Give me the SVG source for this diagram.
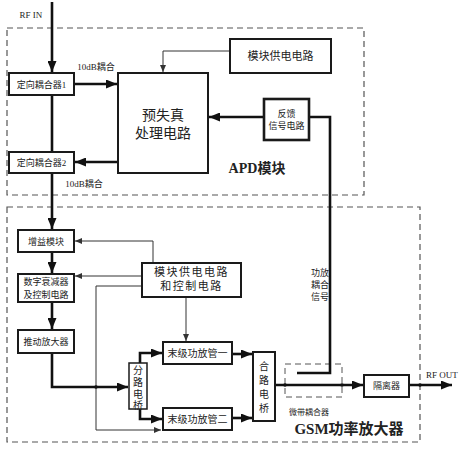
<svg xmlns="http://www.w3.org/2000/svg" width="464" height="450" viewBox="0 0 464 450">
<defs>
<style>
.box{fill:#fff;stroke:#1a1a1a;stroke-width:2}
.dash{fill:none;stroke:#555;stroke-width:1.2;stroke-dasharray:6,4}
.thick{fill:none;stroke:#111;stroke-width:2.6}
.thin{fill:none;stroke:#333;stroke-width:1}
text{font-family:"Liberation Serif","Noto Sans CJK SC",serif;fill:#222;text-anchor:middle}
.s9{font-size:9px}
.s10{font-size:10px}
.s11{font-size:11px}
.big{font-size:14px}
.bold{font-size:14px;font-weight:bold}
.dot{fill:#111}
</style>
<marker id="ak" markerUnits="userSpaceOnUse" markerWidth="11" markerHeight="9" refX="11" refY="4.5" orient="auto"><path d="M0,0 L11,4.5 L0,9 z" fill="#111"/></marker>
<marker id="an" markerUnits="userSpaceOnUse" markerWidth="7" markerHeight="6" refX="7" refY="3" orient="auto"><path d="M0,0 L7,3 L0,6 z" fill="#333"/></marker>
</defs>
<rect width="464" height="450" fill="#fff"/>

<g id="apd-module">
<rect class="dash" x="7" y="28" width="357" height="167"/>
<text class="bold" x="257" y="173">APD模块</text>
</g>
<g id="gsm-amplifier">
<rect class="dash" x="7" y="207" width="413" height="235"/>
<text class="bold" x="349" y="434" style="font-size:15px">GSM功率放大器</text>
</g>
<g id="microstrip-coupler">
<rect class="dash" x="285" y="364" width="57" height="33" style="stroke-width:1"/>
<text class="s9" x="309" y="415" style="font-size:8px">微带耦合器</text>
</g>

<g id="connectors">
<path class="thick" d="M52,2 V72" marker-end="url(#ak)"/>
<path class="thick" d="M52,95 V152"/>
<path class="thick" d="M52,173 V229" marker-end="url(#ak)"/>
<path class="thick" d="M74,84 H117" marker-end="url(#ak)"/>
<path class="thick" d="M118,162 H75" marker-end="url(#ak)"/>
<path class="thin" d="M230,51 H163 V72" marker-end="url(#an)"/>
<path class="thick" d="M264,117 H209" marker-end="url(#ak)"/>
<path class="thick" d="M309,117 H330 V373 H297"/>
<path class="thick" d="M52,252 V273" marker-end="url(#ak)"/>
<path class="thick" d="M52,302 V329" marker-end="url(#ak)"/>
<path class="thick" d="M52,353 V387 H128" marker-end="url(#ak)"/>
<path class="thick" d="M140,363 V353 H162" marker-end="url(#ak)"/>
<path class="thick" d="M140,409 V419 H162" marker-end="url(#ak)"/>
<path class="thick" d="M232,354 H252" marker-end="url(#ak)"/>
<path class="thick" d="M232,418 H252" marker-end="url(#ak)"/>
<path class="thick" d="M275,385 H363" marker-end="url(#ak)"/>
<path class="thick" d="M409,385 H452" marker-end="url(#ak)"/>
<path class="thin" d="M153,263 V241 H75" marker-end="url(#an)"/>
<path class="thin" d="M142,276 H75" marker-end="url(#an)"/>
<path class="thin" d="M142,286 H96 V430 H161" marker-end="url(#an)"/>
<path class="thin" d="M186,297 V341" marker-end="url(#an)"/>
<circle class="dot" cx="96" cy="387" r="1.8"/>
<circle class="dot" cx="285" cy="385" r="1.8"/>
<circle class="dot" cx="342" cy="385" r="1.8"/>
<circle class="dot" cx="420" cy="385" r="1.8"/>
<text class="s9" x="31" y="18">RF IN</text>
<text class="s9" x="96" y="70">10dB耦合</text>
<text class="s9" x="84" y="187">10dB耦合</text>
<text class="s9" x="320" y="276">功放</text>
<text class="s9" x="320" y="288">耦合</text>
<text class="s9" x="320" y="300">信号</text>
<text class="s9" x="442" y="378">RF OUT</text>
</g>

<g id="coupler1">
<rect class="box" x="9" y="73" width="65" height="22"/>
<text class="s9" x="41.5" y="88">定向耦合器1</text>
</g>
<g id="coupler2">
<rect class="box" x="9" y="152" width="65" height="21"/>
<text class="s9" x="41.5" y="166">定向耦合器2</text>
</g>
<g id="predistortion">
<rect class="box" x="118" y="73" width="90" height="100"/>
<text class="big" x="163" y="120">预失真</text>
<text class="big" x="163" y="138">处理电路</text>
</g>
<g id="apd-power">
<rect class="box" x="230" y="39" width="101" height="34"/>
<text class="s11" x="280.5" y="60">模块供电电路</text>
</g>
<g id="feedback">
<rect class="box" x="264" y="99" width="45" height="41" style="stroke-width:2.6"/>
<text class="s9" x="286.5" y="117">反馈</text>
<text class="s9" x="286.5" y="129">信号电路</text>
</g>
<g id="gain">
<rect class="box" x="18" y="230" width="56" height="22"/>
<text class="s9" x="46" y="244.5">增益模块</text>
</g>
<g id="attenuator">
<rect class="box" x="18" y="274" width="56" height="28"/>
<text class="s9" x="46" y="285">数字衰减器</text>
<text class="s9" x="46" y="298">及控制电路</text>
</g>
<g id="driver">
<rect class="box" x="18" y="330" width="56" height="23"/>
<text class="s9" x="46" y="345">推动放大器</text>
</g>
<g id="power-control">
<rect class="box" x="142" y="263" width="99" height="34"/>
<text class="s11" x="191.5" y="276" style="letter-spacing:1.5px">模块供电电路</text>
<text class="s11" x="191.5" y="290" style="letter-spacing:1.5px">和控制电路</text>
</g>
<g id="splitter">
<rect class="box" x="129" y="363" width="18" height="46" style="stroke-width:1.5"/>
<text class="s10" x="138" y="374">分</text>
<text class="s10" x="138" y="386">路</text>
<text class="s10" x="138" y="398">电</text>
<text class="s10" x="138" y="409">桥</text>
</g>
<g id="pa1">
<rect class="box" x="163" y="342" width="69" height="22"/>
<text class="s10" x="197.5" y="357">末级功放管一</text>
</g>
<g id="pa2">
<rect class="box" x="163" y="408" width="69" height="22"/>
<text class="s10" x="197.5" y="423">末级功放管二</text>
</g>
<g id="combiner">
<rect class="box" x="253" y="352" width="22" height="69"/>
<text class="s10" x="264" y="370">合</text>
<text class="s10" x="264" y="384">路</text>
<text class="s10" x="264" y="398">电</text>
<text class="s10" x="264" y="412">桥</text>
</g>
<g id="isolator">
<rect class="box" x="364" y="375" width="45" height="22"/>
<text class="s9" x="386.5" y="389">隔离器</text>
</g>
</svg>
